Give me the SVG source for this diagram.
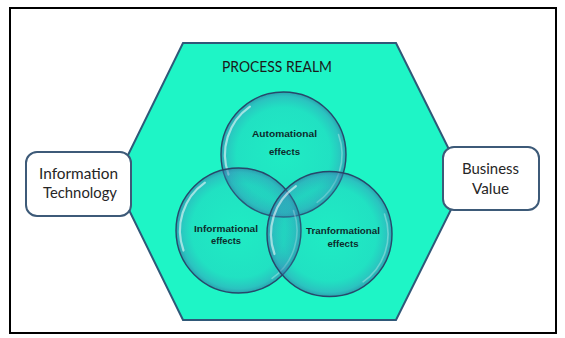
<svg xmlns="http://www.w3.org/2000/svg" xmlns:xlink="http://www.w3.org/1999/xlink" width="565" height="338" viewBox="0 0 565 338">
  <style>
    .frame { fill: #ffffff; stroke: #000000; stroke-width: 2; }
    .hex { fill: #1ef5c6; stroke: #2f5878; stroke-width: 2; }
    .box { fill: #ffffff; stroke: #3d5a78; stroke-width: 2; }
    .boxtxt { font-family: Lato, "Liberation Sans", sans-serif; font-size: 15px; fill: #262626; text-anchor: middle; }
    .title { font-family: Lato, "Liberation Sans", sans-serif; font-size: 15px; fill: #1a1a1a; text-anchor: middle; }
    .ctxt { font-family: "Liberation Sans", Arial, sans-serif; font-weight: bold; font-size: 9.5px; fill: #0d2b2b; text-anchor: middle; }
    .ring { fill: url(#bubbleFill); stroke: #27476a; stroke-width: 1.4; }
    .shine { fill: none; stroke: #ffffff; stroke-opacity: 0.55; stroke-width: 2.2; stroke-linecap: round; }
    .shine2 { fill: none; stroke: #ffffff; stroke-opacity: 0.3; stroke-width: 1.6; stroke-linecap: round; }
  </style>
  <defs>
    <radialGradient id="bubbleFill" cx="0.5" cy="0.5" r="0.5">
      <stop offset="0" stop-color="#2aa6b4" stop-opacity="0.12"/>
      <stop offset="0.75" stop-color="#2a9cb6" stop-opacity="0.22"/>
      <stop offset="0.93" stop-color="#3a86b8" stop-opacity="0.45"/>
      <stop offset="1" stop-color="#2f6d9e" stop-opacity="0.6"/>
    </radialGradient>
    <g id="bubble">
      <circle class="ring" cx="0" cy="0" r="62.5"/>
      <path class="shine" d="M -55 20 A 58.5 58.5 0 0 1 -33.6 -47.9"/>
      <path class="shine2" d="M 55 -20 A 58.5 58.5 0 0 1 33.6 47.9"/>
    </g>
  </defs>

  <rect class="frame" x="10" y="8" width="546" height="325"/>

  <g id="process-realm">
    <polygon class="hex" points="183,43 396,43 465,181.5 396,320 183,320 115,181.5"/>
    <text class="title" x="277" y="72" textLength="110" lengthAdjust="spacingAndGlyphs">PROCESS REALM</text>
  </g>

  <g id="automational-effects">
    <use xlink:href="#bubble" href="#bubble" x="283.5" y="154.5"/>
    <text class="ctxt" x="284.5" y="137" textLength="65" lengthAdjust="spacingAndGlyphs">Automational</text>
    <text class="ctxt" x="284.5" y="155" textLength="31" lengthAdjust="spacingAndGlyphs">effects</text>
  </g>

  <g id="informational-effects">
    <use xlink:href="#bubble" href="#bubble" x="238.5" y="230.5"/>
    <text class="ctxt" x="226" y="232" textLength="64" lengthAdjust="spacingAndGlyphs">Informational</text>
    <text class="ctxt" x="226" y="244" textLength="30" lengthAdjust="spacingAndGlyphs">effects</text>
  </g>

  <g id="transformational-effects">
    <use xlink:href="#bubble" href="#bubble" x="329.5" y="234"/>
    <text class="ctxt" x="343" y="234" textLength="74" lengthAdjust="spacingAndGlyphs">Tranformational</text>
    <text class="ctxt" x="343" y="247" textLength="31" lengthAdjust="spacingAndGlyphs">effects</text>
  </g>

  <g id="information-technology">
    <rect class="box" x="26" y="152" width="105" height="64" rx="11" ry="11"/>
    <text class="boxtxt" x="78.5" y="179" textLength="79" lengthAdjust="spacingAndGlyphs">Information</text>
    <text class="boxtxt" x="80" y="198" textLength="74" lengthAdjust="spacingAndGlyphs">Technology</text>
  </g>

  <g id="business-value">
    <rect class="box" x="443" y="147" width="96" height="63" rx="11" ry="11"/>
    <text class="boxtxt" x="490.5" y="174" textLength="57" lengthAdjust="spacingAndGlyphs">Business</text>
    <text class="boxtxt" x="490.5" y="194" textLength="37" lengthAdjust="spacingAndGlyphs">Value</text>
  </g>

  <g id="connectors"/>
</svg>
